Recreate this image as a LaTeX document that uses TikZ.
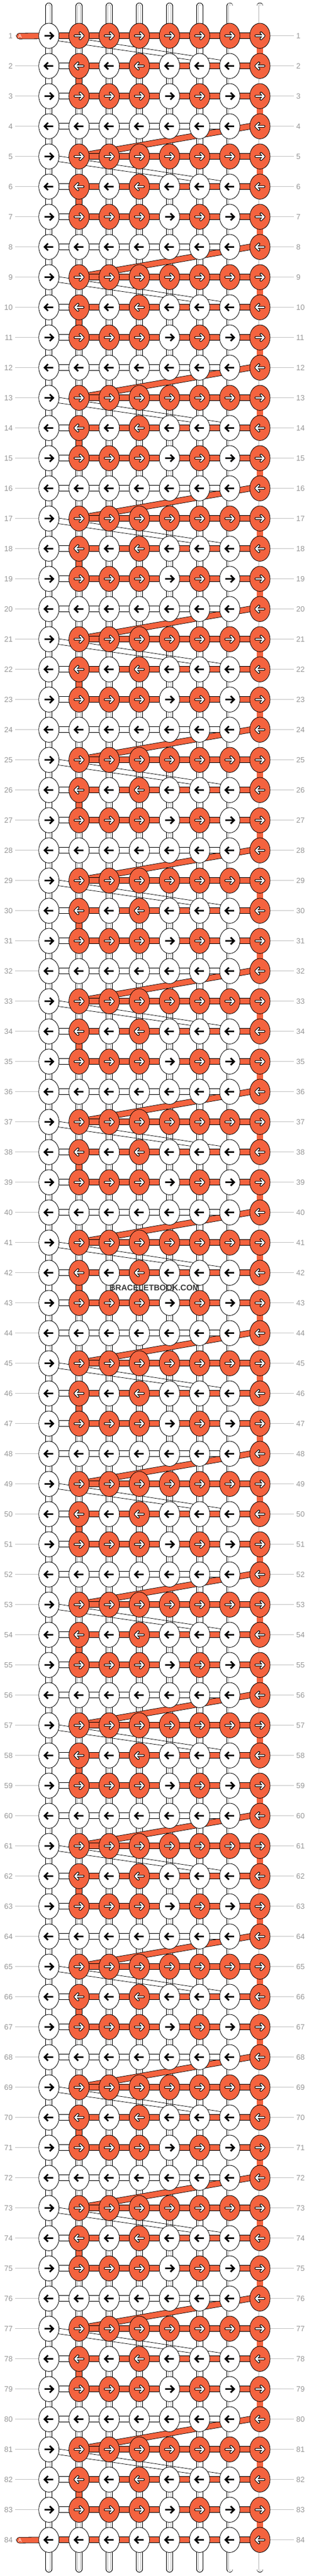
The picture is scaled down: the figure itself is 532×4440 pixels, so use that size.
\documentclass[tikz,border=0pt]{standalone}
\usepackage{fontspec}
\setmainfont{Liberation Sans}
\usetikzlibrary{shapes.geometric,calc}
\definecolor{knot}{RGB}{244,99,63}
\definecolor{rowgray}{RGB}{195,195,195}
\definecolor{numgray}{RGB}{150,150,150}
\pgfdeclarelayer{bg}
\pgfsetlayers{bg,main}

\begin{document}
\begin{tikzpicture}[x=1pt,y=-1pt,
    knotw/.style={ellipse,draw=black,line width=.8pt,fill=white,
                  minimum width=35pt,minimum height=43.4pt,inner sep=0pt},
    knoto/.style={knotw,fill=knot},
    tube/.style={draw=black,double=white,double distance=10.1pt,line width=.8pt},
    tubein/.style={draw=black!28,double=white,double distance=4pt,line width=.7pt},
    plainv/.style={draw=black,double=white,double distance=10.1pt,line width=.8pt},
    ovbar/.style={draw=black,double=knot,double distance=10.1pt,line width=.8pt},
    wbar/.style={draw=black,double=white,double distance=9.1pt,line width=.8pt},
    obar/.style={draw=black,double=knot,double distance=9.1pt,line width=.8pt},
    thread/.style={draw=black,line width=.7pt},
    rowline/.style={draw=rowgray,line width=.8pt},
    rownum/.style={text=numgray,font=\fontsize{13}{15}\selectfont,inner sep=0pt},
    tabtxt/.style={text=white,font=\fontsize{9}{10}\selectfont,inner sep=0pt},
    pics/arrb/.style={code={\draw[line width=2.8pt] (-7.5,0) -- (7,0) (1.5,-6) -- (7.5,0) -- (1.5,6);}},
    pics/arrw/.style={code={
      \draw[line width=4.4pt,line cap=round,line join=round] (-7,0) -- (7,0) (1.8,-5.3) -- (7,0) -- (1.8,5.3);
      \draw[white,line width=2.2pt,line cap=round,line join=round] (-7,0) -- (7,0) (1.8,-5.3) -- (7,0) -- (1.8,5.3);}}]

  \useasboundingbox (0,0) rectangle (532,4440);

  % knots, arrows and row numbers
  \foreach \r in {1,...,84}{
    \pgfmathtruncatemacro\t{mod(\r-1,4)}
    \pgfmathsetmacro\yy{61.7+52*(\r-1)}
    \pgfmathtruncatemacro\dd{ifthenelse(mod(\t,2)==0,1,-1)}
    \node[rownum,anchor=east] (ln-\r) at (22,\yy) {\r};
    \node[rownum,anchor=west] (rn-\r) at (510,\yy) {\r};
    \foreach \c in {1,...,8}{
      \pgfmathsetmacro\xx{84.2+51.9*(\c-1)}
      \pgfmathtruncatemacro\kc{{0,1,1,1,1,1,1,1,0,1,0,1,0,0,0,1,0,1,1,1,0,1,0,1,0,0,0,0,0,0,0,1}[\t*8+\c-1]}
      \ifnum\kc=1\relax
        \node[knoto] (k-\r-\c) at (\xx,\yy) {};
        \pic[xscale=\dd] at (k-\r-\c) {arrw};
      \else
        \node[knotw] (k-\r-\c) at (\xx,\yy) {};
        \pic[xscale=\dd] at (k-\r-\c) {arrb};
      \fi
    }
  }
  \node[tabtxt] (a-1)  at (34.5,62.2)   {A};
  \node[tabtxt] (a-84) at (34.5,4378.2) {A};

  \begin{pgfonlayer}{bg}
    \foreach \r in {1,...,84}{
      \draw[rowline] ([xshift=4.4pt]ln-\r.east) -- (k-\r-1.center);
      \draw[rowline] (k-\r-8.center) -- ([xshift=-4.5pt]rn-\r.west);
    }
    % loose ends
    \foreach \c in {1,...,8}{
      \coordinate (top-\c) at ($(k-1-\c.center)+(0,-51.2)$);
      \coordinate (bot-\c) at ($(k-84-\c.center)+(0,50.3)$);
      \draw[tube,line cap=round]   (top-\c) -- (k-1-\c.center);
      \draw[tubein,line cap=round] (top-\c) -- (k-1-\c.center);
      \draw[tube,line cap=round]   (k-84-\c.center) -- (bot-\c);
      \draw[tubein,line cap=round] (k-84-\c.center) -- (bot-\c);
    }
    % strands between rows
    \foreach \r in {1,...,83}{
      \pgfmathtruncatemacro\s{\r+1}
      \pgfmathtruncatemacro\t{mod(\r-1,4)}
      \foreach \c in {1,...,8}{
        \pgfmathtruncatemacro\vc{{0,0,0,0,0,0,0,2,1,2,0,0,0,0,0,0,0,0,0,0,0,0,0,2,0,0,0,0,0,0,0,0}[\t*8+\c-1]}
        \ifcase\vc\relax
          \draw[tube]   (k-\r-\c.center) -- (k-\s-\c.center);
          \draw[tubein] (k-\r-\c.center) -- (k-\s-\c.center);
        \or
          \draw[plainv] (k-\r-\c.center) -- (k-\s-\c.center);
        \or
          \draw[ovbar]  (k-\r-\c.center) -- (k-\s-\c.center);
        \fi
      }
    }
    % crossing threads
    \foreach \r in {1,5,...,81}{
      \pgfmathtruncatemacro\s{\r+1}
      \draw[thread] ($(k-\r-1.center)+(0,-3.3)$) -- ($(k-\s-7.center)+(-15.4,-10.1)$);
      \draw[thread] ($(k-\r-1.center)+(0,6.5)$)  -- ($(k-\s-6.center)+(-15.4,-10.3)$);
    }
    \foreach \r in {4,8,...,80}{
      \pgfmathtruncatemacro\s{\r+1}
      \draw[obar] ($(k-\s-2.center)+(0,-0.7)$) -- ($(k-\r-8.center)+(0,-3)$);
    }
    % working threads
    \foreach \r in {1,...,84}{
      \pgfmathtruncatemacro\t{mod(\r-1,4)}
      \foreach \c [evaluate=\c as \d using int(\c+1)] in {1,...,7}{
        \pgfmathtruncatemacro\hb{{0,2,2,2,2,2,2,1,2,2,2,2,2,2,1,2,2,2,2,2,2,1,1,1,1,1,1,0}[\t*7+\c-1]}
        \ifnum\r=1\relax \def\hb{2}\fi
        \ifnum\r=84\relax \def\hb{2}\fi
        \ifcase\hb\relax
        \or
          \draw[wbar] (k-\r-\c.center) -- (k-\r-\d.center);
        \or
          \draw[obar] (k-\r-\c.center) -- (k-\r-\d.center);
        \fi
      }
    }
    \draw[obar,line cap=round] ([xshift=-1.2pt]a-1.center)  -- (k-1-1.center);
    \draw[obar,line cap=round] ([xshift=-1.2pt]a-84.center) -- (k-84-1.center);
  \end{pgfonlayer}

  \node[text=black!78,font=\bfseries\fontsize{14}{16}\selectfont,inner sep=0pt] (wm) at (266,2219.5) {BRACELETBOOK.COM};

\end{tikzpicture}
\end{document}
